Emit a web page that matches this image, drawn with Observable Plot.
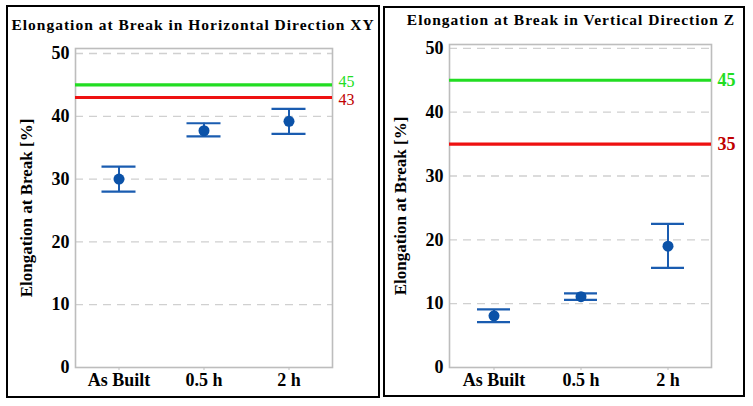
<!DOCTYPE html>
<html><head><meta charset="utf-8">
<script src="https://cdn.jsdelivr.net/npm/d3@7"></script>
<script src="https://cdn.jsdelivr.net/npm/@observablehq/plot@0.6"></script>
<style>
body{margin:0;background:#fff;}
#wrap{position:relative;width:753px;height:406px;background:#fff;overflow:hidden;font-family:"Liberation Serif","Times New Roman",serif;}
.panel{position:absolute;border:2px solid #000;box-sizing:border-box;}
.title{position:absolute;font-weight:bold;font-size:15.5px;letter-spacing:1px;white-space:nowrap;transform:translate(-50%,-50%);color:#000;}
.chart{position:absolute;top:0;}
</style></head>
<body><div id="wrap">
<div class="panel" style="left:6px;top:5px;width:374px;height:393px"></div>
<div class="panel" style="left:383px;top:6px;width:362px;height:391px"></div>
<div class="title" style="left:193px;top:25px">Elongation at Break in Horizontal Direction XY</div>
<div class="title" style="left:571px;top:20px">Elongation at Break in Vertical Direction Z</div>
<div class="chart" id="c1" style="left:0px"></div>
<div class="chart" id="c2" style="left:380px"></div>
</div>
<script>
const categories = ["As Built", "0.5 h", "2 h"];
const yTicks = [0, 10, 20, 30, 40, 50];
const yLabel = "Elongation at Break [%]";

const xyMean = [30.0, 37.7, 39.2];
const xyLow  = [28.0, 36.8, 37.2];
const xyHigh = [32.0, 38.9, 41.2];
const xyLimits = [45, 43];

const zMean = [8.1, 11.1, 19.0];
const zLow  = [7.1, 10.6, 15.6];
const zHigh = [9.1, 11.6, 22.5];
const zLimits = [45, 35];

const limitColors = ["#22dd22", "#ee1111"];
const limitTextColors = ["#22dd22", "#c00000"];

function makeChart({mean, low, high, limits, width, mL, mR, mT, yMax, capInset, limWeight, limDy, limSize}) {
  const data = categories.map((c, i) => ({cat: c, mean: mean[i], low: low[i], high: high[i]}));
  const lim = limits.map((v, i) => ({v, i}));
  const limText = lim.map(d => Plot.text([d], {y: "v", text: e => String(e.v), frameAnchor: "right", dx: 6, dy: limDy[d.i], textAnchor: "start", fill: limitTextColors[d.i], fontSize: limSize, fontWeight: limWeight}));
  return Plot.plot({
    width, height: 406,
    marginLeft: mL, marginRight: mR, marginTop: mT, marginBottom: 39,
    style: {background: "transparent", fontFamily: "'Liberation Serif', serif", color: "#000"},
    x: {domain: categories, padding: 0, type: "band"},
    y: {domain: [0, yMax]},
    marks: [
      Plot.gridY([10, 20, 30, 40, 50], {stroke: "#d0d0d0", strokeOpacity: 1, strokeDasharray: "8,6", strokeWidth: 1.3}),
      Plot.frame({stroke: "#bdbdbd", strokeWidth: 1.6}),
      Plot.axisY({ticks: yTicks, tickSize: 0, tickPadding: 6, fontSize: 18, fontWeight: "bold", label: null}),
      Plot.axisX({tickSize: 3, tickPadding: 3, fontSize: 18, fontWeight: "bold", label: null, stroke: "#bdbdbd"}),
      Plot.text([yLabel], {frameAnchor: "left", textAnchor: "middle", rotate: -90, dx: -49, fontSize: 17, fontWeight: "bold", fill: "#000", letterSpacing: 2}),
      Plot.ruleY(lim, {y: "v", stroke: d => limitColors[d.i], strokeWidth: 3.2}),
      ...limText,
      Plot.ruleX(data, {x: "cat", y1: "low", y2: "high", stroke: "#1a5cb0", strokeWidth: 2}),
      Plot.tickY(data, {x: "cat", y: "low", stroke: "#1a5cb0", strokeWidth: 2.2, insetLeft: capInset, insetRight: capInset}),
      Plot.tickY(data, {x: "cat", y: "high", stroke: "#1a5cb0", strokeWidth: 2.2, insetLeft: capInset, insetRight: capInset}),
      Plot.dot(data, {x: "cat", y: "mean", r: 5.5, fill: "#0b52a8", stroke: "none"})
    ]
  });
}

document.getElementById("c1").append(makeChart({
  mean: xyMean, low: xyLow, high: xyHigh, limits: xyLimits,
  width: 380, mL: 75, mR: 48, mT: 48, yMax: 50.8, capInset: 25.5, limWeight: "normal", limDy: [-3, 2], limSize: 16
}));
document.getElementById("c2").append(makeChart({
  mean: zMean, low: zLow, high: zHigh, limits: zLimits,
  width: 373, mL: 69, mR: 42, mT: 44, yMax: 50.6, capInset: 27, limWeight: "bold", limDy: [0, 0], limSize: 18
}));
</script>
</body></html>
